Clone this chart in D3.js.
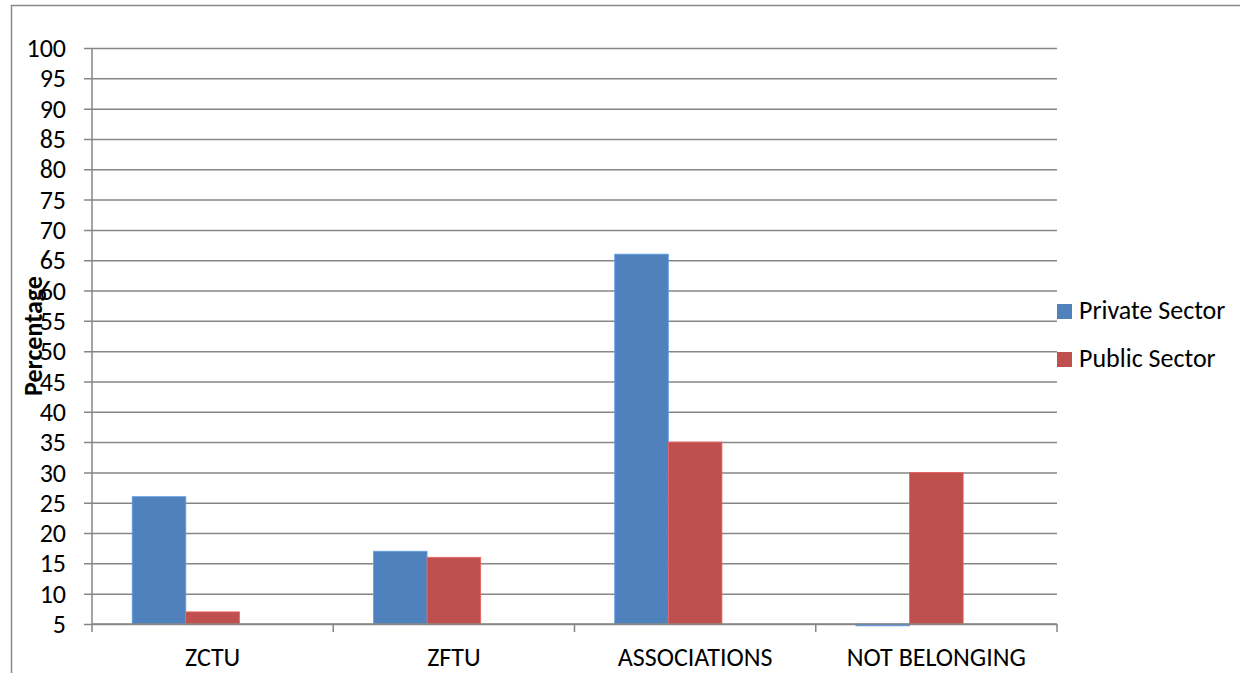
<!DOCTYPE html>
<html>
<head>
<meta charset="utf-8">
<script src="https://cdn.jsdelivr.net/npm/d3@7/dist/d3.min.js"></script>
<style>
  html, body { margin: 0; padding: 0; background: #fff; }
  svg { display: block; }
</style>
</head>
<body>
<svg id="chart" width="1240" height="673"></svg>
<script>
// data
const categories = ["ZCTU", "ZFTU", "ASSOCIATIONS", "NOT BELONGING"];
const seriesNames = ["Private Sector", "Public Sector"];
const privateSector = [26, 17, 66, 4.7];
const publicSector = [7, 16, 35, 30];
const yTicks = d3.range(5, 101, 5);
const colors = ["#4F81BD", "#C0504D"];

const FONT = "Carlito, Calibri, 'Open Sans', sans-serif";
const FS = 26;

const svg = d3.select("#chart").attr("font-family", FONT);
const W = 1240, H = 673;

// outer chart frame (cut off on the right and bottom)
svg.append("rect")
  .attr("x", 11.5).attr("y", 5.5)
  .attr("width", W + 10).attr("height", H + 10)
  .attr("fill", "#fff")
  .attr("stroke", "#888").attr("stroke-width", 1.5);

const plot = { left: 92, right: 1057, top: 48, bottom: 624 };

const x = d3.scaleBand()
  .domain(categories)
  .range([plot.left, plot.right])
  .paddingInner(0)
  .paddingOuter(0);

// three slots per category (third one is empty in the original chart)
const x1 = d3.scaleBand()
  .domain([0, 1, 2])
  .range([0, x.bandwidth()])
  .paddingInner(0)
  .paddingOuter(0.75);

const y = d3.scaleLinear().domain([5, 100]).range([plot.bottom, plot.top]);

// gridlines + y axis labels
const yAxis = d3.axisLeft(y)
  .tickValues(yTicks)
  .tickSize(-(plot.right - plot.left) - 8)
  .tickFormat(d3.format("d"));

const gy = svg.append("g")
  .attr("transform", `translate(${plot.left - 8},0)`)
  .call(yAxis)
  .attr("font-family", FONT);
gy.select(".domain").remove();
gy.selectAll(".tick line")
  .attr("stroke", "#868686").attr("stroke-width", 1.5);
gy.selectAll(".tick text")
  .attr("x", -18)
  .attr("font-size", FS).attr("fill", "#000")
  .attr("dy", "0.33em");

// vertical axis line
svg.append("line")
  .attr("x1", plot.left).attr("x2", plot.left)
  .attr("y1", plot.top).attr("y2", plot.bottom)
  .attr("stroke", "#868686").attr("stroke-width", 1.5);

// bars
const rows = categories.map((c, i) => ({ cat: c, vals: [privateSector[i], publicSector[i]] }));
const groups = svg.append("g").selectAll("g")
  .data(rows).join("g")
  .attr("transform", d => `translate(${x(d.cat)},0)`);

groups.selectAll("rect")
  .data(d => d.vals.map((v, k) => ({ v, k })))
  .join("rect")
  .attr("x", d => x1(d.k))
  .attr("width", x1.bandwidth())
  .attr("y", d => Math.min(y(d.v), y(5)))
  .attr("height", d => Math.max(1.5, Math.abs(y(5) - y(d.v))))
  .attr("fill", d => colors[d.k])
  .attr("stroke", d => d3.color(colors[d.k]).brighter(0.6))
  .attr("stroke-width", 0.8);

// x axis
const xAxis = d3.axisBottom(x).tickSize(0).tickPadding(0);
const gx = svg.append("g")
  .attr("transform", `translate(0,${plot.bottom})`)
  .call(xAxis)
  .attr("font-family", FONT);
gx.select(".domain").remove();
gx.selectAll(".tick text")
  .attr("y", 42).attr("dy", 0)
  .attr("font-size", FS).attr("fill", "#000");

svg.append("line")
  .attr("x1", plot.left).attr("x2", plot.right)
  .attr("y1", plot.bottom).attr("y2", plot.bottom)
  .attr("stroke", "#868686").attr("stroke-width", 1.5);

// category boundary ticks
const bounds = categories.map(c => x(c)).concat([plot.right]);
svg.append("g").selectAll("line")
  .data(bounds).join("line")
  .attr("x1", d => d).attr("x2", d => d)
  .attr("y1", plot.bottom).attr("y2", plot.bottom + 8)
  .attr("stroke", "#868686").attr("stroke-width", 1.5);

// y axis title
svg.append("text")
  .attr("transform", `translate(42,336) rotate(-90)`)
  .attr("text-anchor", "middle")
  .attr("font-size", FS).attr("font-weight", "bold")
  .text("Percentage");

// legend
const legend = svg.append("g").selectAll("g")
  .data(seriesNames).join("g")
  .attr("transform", (d, i) => `translate(1057,${304 + i * 48})`);
legend.append("rect")
  .attr("width", 15).attr("height", 15)
  .attr("fill", (d, i) => colors[i]);
legend.append("text")
  .attr("x", 22).attr("y", 15)
  .attr("font-size", FS)
  .text(d => d);
</script>
</body>
</html>
